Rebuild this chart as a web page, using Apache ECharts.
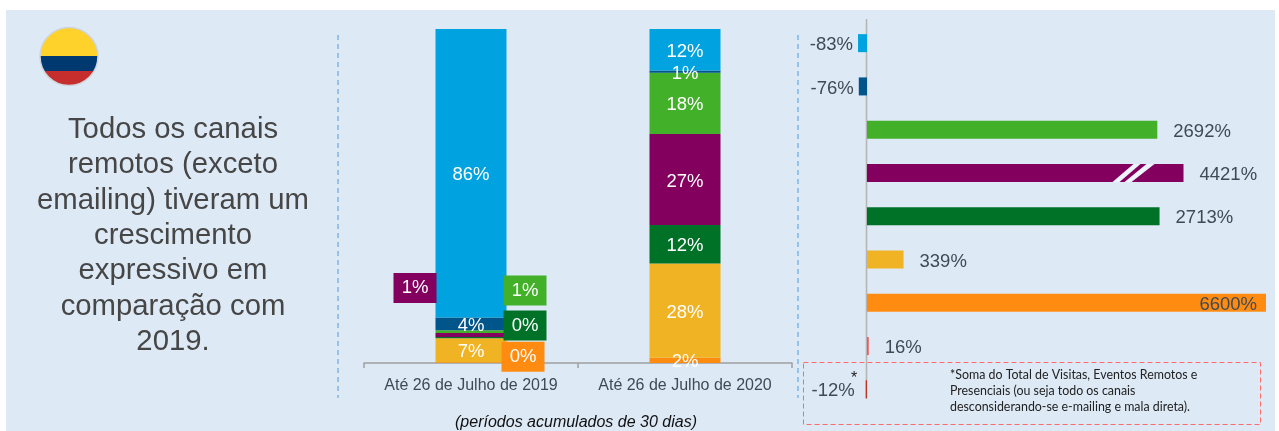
<!DOCTYPE html>
<html>
<head>
<meta charset="utf-8">
<style>html,body{margin:0;padding:0;background:#fff}#c{width:1279px;height:431px}</style>
<script src="https://cdn.jsdelivr.net/npm/echarts@6/dist/echarts.min.js"></script>
</head>
<body>
<div id="c"></div>
<script>
var periods = ['Até 26 de Julho de 2019', 'Até 26 de Julho de 2020'];
// Share of each channel per period (bottom of the stack first)
var orangeShare = [0.2, 1.6];
var yellowShare = [7.2, 28.2];
var darkGreenShare = [0.4, 11.5];
var purpleShare = [1.2, 27.3];
var greenShare = [0.8, 18.3];
var blueShare = [3.8, 0.7];
var lightBlueShare = [86.4, 12.4];
// Growth 2019 -> 2020 per channel (top to bottom)
var growthKeys = ['c1', 'c2', 'c3', 'c4', 'c5', 'c6', 'c7', 'c8', 'c9'];
var growth = [-83, -76, 2692, 4421, 2713, 339, 6600, 16, -12];

var COLORS = {
  lightBlue: '#00a3e0', blue: '#00558a', green: '#43b02a', purple: '#83005f',
  darkGreen: '#007228', yellow: '#f0b323', orange: '#ff8c10',
  pink: '#ff4f4f', brick: '#b8341f'
};
var growthColors = [COLORS.lightBlue, COLORS.blue, COLORS.green, COLORS.purple, COLORS.darkGreen,
  COLORS.yellow, COLORS.orange, COLORS.pink, COLORS.brick];

var FONT = '"Liberation Sans", Arial, sans-serif';
var TXT = '#3f4a57';
var SIZE = 18.5;

function pct(p) { return Math.round(p.value) + '%'; }
function boxed(color, dx, dy) {
  return {
    show: true, position: 'inside', formatter: pct, color: '#fff', fontSize: SIZE, fontFamily: FONT,
    backgroundColor: color, width: 43, height: 30, lineHeight: 32, align: 'center', verticalAlign: 'middle',
    offset: [dx, dy]
  };
}
function stack(name, values, color, firstLabel) {
  return {
    name: name, type: 'bar', stack: 'share', barWidth: 71, xAxisIndex: 0, yAxisIndex: 0,
    itemStyle: { color: color },
    label: { show: true, position: 'inside', formatter: pct, color: '#fff', fontSize: SIZE, fontFamily: FONT, offset: [0, 2] },
    data: values.map(function (v, i) {
      return (i === 0 && firstLabel) ? { value: v, label: firstLabel } : v;
    }),
    z: 3
  };
}
function growthLabel(v, i) {
  var base = { show: true, color: TXT, fontSize: SIZE, fontFamily: FONT, formatter: '{c}%', offset: [0, 2] };
  if (i === 6) { base.position = 'insideRight'; base.distance = 9; }
  else if (v < 0) { base.position = 'left'; base.distance = i === 8 ? 11 : 5; }
  else { base.position = 'right'; base.distance = 16; }
  return base;
}

var chart = echarts.init(document.getElementById('c'), null, { renderer: 'canvas' });
chart.setOption({
  animation: false,
  backgroundColor: '#fff',
  grid: [
    { left: 364, width: 428, top: 29, height: 334 },
    { left: 856.2, width: 409.8, top: 21.5, height: 389.5 }
  ],
  xAxis: [
    {
      type: 'category', gridIndex: 0, data: periods,
      axisLine: { show: true, lineStyle: { color: '#a0a0a0', width: 1.5 } },
      axisTick: { show: true, alignWithLabel: false, interval: 0, length: 5, lineStyle: { color: '#a0a0a0', width: 1.5 } },
      axisLabel: { color: TXT, fontSize: 16, fontFamily: FONT, margin: 15, interval: 0 }
    },
    {
      type: 'value', gridIndex: 1, min: -100, max: 6600,
      breaks: [
        { start: 2800, end: 4300, gap: 14 },
        { start: 4450, end: 5900, gap: 36 }
      ],
      breakArea: { show: false },
      axisLine: { show: false }, axisTick: { show: false }, axisLabel: { show: false }, splitLine: { show: false }
    }
  ],
  yAxis: [
    { type: 'value', gridIndex: 0, min: 0, max: 100, show: false },
    {
      type: 'category', gridIndex: 1, data: growthKeys, inverse: true,
      axisLine: { show: false }, axisTick: { show: false }, axisLabel: { show: false }, splitLine: { show: false }
    }
  ],
  series: [
    stack('Laranja', orangeShare, COLORS.orange, boxed(COLORS.orange, 52, -6)),
    stack('Amarelo', yellowShare, COLORS.yellow),
    stack('Verde escuro', darkGreenShare, COLORS.darkGreen, boxed(COLORS.darkGreen, 54, -12)),
    stack('Roxo', purpleShare, COLORS.purple, boxed(COLORS.purple, -56, -47)),
    stack('Verde', greenShare, COLORS.green, boxed(COLORS.green, 54, -41)),
    stack('Azul', blueShare, COLORS.blue),
    stack('Azul claro', lightBlueShare, COLORS.lightBlue),
    {
      name: 'Crescimento', type: 'bar', xAxisIndex: 1, yAxisIndex: 1, barWidth: 18,
      data: growth.map(function (v, i) {
        return { value: v, itemStyle: { color: growthColors[i] }, label: growthLabel(v, i) };
      }),
      z: 3
    },
    {
      name: 'Quebra', type: 'custom', xAxisIndex: 1, yAxisIndex: 1, z: 4, silent: true,
      data: [[growth[3], 3]],
      renderItem: function (params, api) {
        var end = api.coord([api.value(0), api.value(1)]);
        var t = end[1] - 9, b = end[1] + 9;
        function slash(bl, br, tl, tr) {
          return {
            type: 'polygon',
            shape: { points: [[end[0] - bl, b], [end[0] - br, b], [end[0] - tr, t], [end[0] - tl, t]] },
            style: { fill: '#eef4fb' }
          };
        }
        return { type: 'group', children: [slash(71, 64, 50, 43), slash(59, 52, 37, 29)] };
      }
    }
  ],
  graphic: [
    { type: 'rect', z: -10, silent: true, shape: { x: 6, y: 10, width: 1269, height: 421 }, style: { fill: '#dde9f5' } },
    {
      type: 'circle', z: 1, silent: true, shape: { cx: 69, cy: 56.5, r: 29 },
      style: {
        stroke: '#cfd4da', lineWidth: 1.5,
        fill: {
          type: 'linear', x: 0, y: 0, x2: 0, y2: 1,
          colorStops: [
            { offset: 0, color: '#ffd12b' }, { offset: 0.5, color: '#ffd12b' },
            { offset: 0.5, color: '#00396f' }, { offset: 0.75, color: '#00396f' },
            { offset: 0.75, color: '#c62e2e' }, { offset: 1, color: '#c62e2e' }
          ]
        }
      }
    },
    {
      type: 'text', z: 1, silent: true, x: 173, y: 112,
      style: {
        text: 'Todos os canais\nremotos (exceto\nemailing) tiveram um\ncrescimento\nexpressivo em\ncomparação com\n2019.',
        fill: '#464646', font: '29.3px ' + FONT, lineHeight: 35.4, align: 'center', verticalAlign: 'top'
      }
    },
    { type: 'line', z: 1, silent: true, shape: { x1: 338, y1: 35, x2: 338, y2: 398 }, style: { stroke: '#4f9be0', lineWidth: 1, lineDash: [5, 4] } },
    { type: 'line', z: 1, silent: true, shape: { x1: 798, y1: 35, x2: 798, y2: 398 }, style: { stroke: '#4f9be0', lineWidth: 1, lineDash: [5, 4] } },
    { type: 'line', z: 1, silent: true, shape: { x1: 866.5, y1: 19, x2: 866.5, y2: 399 }, style: { stroke: '#b5b5b5', lineWidth: 1.5 } },
    { type: 'rect', z: 1, silent: true, shape: { x: 803.5, y: 362.5, width: 457, height: 62 }, style: { fill: 'none', stroke: '#ff6b6b', lineWidth: 1, lineDash: [5, 3] } },
    { type: 'text', z: 6, silent: true, x: 851, y: 371, style: { text: '*', fill: '#222', font: '16px ' + FONT } },
    {
      type: 'text', z: 6, silent: true, x: 950, y: 367,
      style: {
        text: '*Soma do Total de Visitas, Eventos Remotos e\nPresenciais (ou seja todo os canais\ndesconsiderando-se e-mailing e mala direta).',
        fill: '#222', font: '12.4px Lato, sans-serif', lineHeight: 16, align: 'left', verticalAlign: 'top'
      }
    },
    {
      type: 'text', z: 1, silent: true, x: 576, y: 423,
      style: { text: '(períodos acumulados de 30 dias)', fill: '#111', font: 'italic 16px ' + FONT, align: 'center', verticalAlign: 'middle' }
    }
  ]
});
</script>
</body>
</html>
